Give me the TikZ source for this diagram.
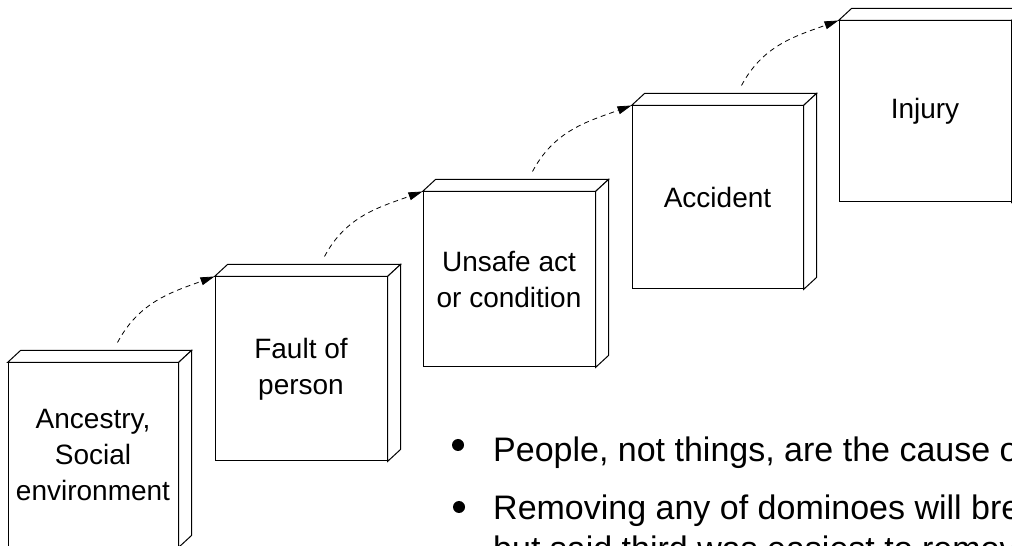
\documentclass[tikz,border=0pt]{standalone}
\usepackage{fontspec}
\setmainfont{Liberation Sans}
\usetikzlibrary{calc,arrows.meta}

\tikzset{
  face/.style={draw=black, line width=1pt, fill=white, inner sep=0pt,
    align=center, font=\fontsize{28}{36}\selectfont},
  side/.style={draw=black, line width=1pt, fill=white, line join=miter},
  chain/.style={line width=0.8pt, dash pattern=on 5pt off 4pt,
    -{Triangle[length=14pt,width=8pt]}},
  bullettext/.style={anchor=base west, inner sep=0pt,
    font=\fontsize{34}{41}\selectfont},
  dot/.style={fill=black, draw=none, circle, minimum size=12pt, inner sep=0pt},
}

\begin{document}
\begin{tikzpicture}[x=1pt,y=1pt]
\useasboundingbox (0,0) rectangle (1012,546);
\clip (0,0) rectangle (1012,546);

% front faces of the dominoes
\node[face, minimum width=170pt, minimum height=184pt] (b1) at (93,91)
  {Ancestry,\\Social\\environment};
\node[face, minimum width=172pt, minimum height=184pt] (b2) at (301,177)
  {Fault of\\person};
\node[face, minimum width=172pt, minimum height=175pt] (b3) at (509,266.5)
  {Unsafe act\\or condition};
\node[face, minimum width=171pt, minimum height=183pt] (b4) at (717.5,348.5)
  {Accident};
\node[face, minimum width=172pt, minimum height=181pt] (b5) at (925,434.5)
  {Injury};

% top and right faces give each domino its depth
\foreach \b in {b1,b2,b3,b4,b5}{
  \draw[side] (\b.north west) -- ++(13,12) -- ($(\b.north east)+(13,12)$)
    -- (\b.north east) -- cycle;
  \draw[side] (\b.north east) -- ++(13,12) -- ($(\b.south east)+(13,12)$)
    -- (\b.south east) -- cycle;
}

% each domino knocks over the next
\foreach \a/\b in {b1/b2,b2/b3,b3/b4,b4/b5}{
  \coordinate (s\a) at ($(\a.north west)+(110,20)$);
  \draw[chain] (s\a) to[out=62,in=200] (\b.north west);
}

% bullet points
\node[dot] (d1) at (458,101) {};
\node[bullettext] (t1) at (493,84) {People, not things, are the cause of accidents};
\node[dot] (d2) at (459,39) {};
\node[bullettext] (t2) at (493,26) {Removing any of dominoes will break the chain,};
\node[bullettext] (t3) at (493,-15) {but said third was easiest to remove};
\end{tikzpicture}
\end{document}
